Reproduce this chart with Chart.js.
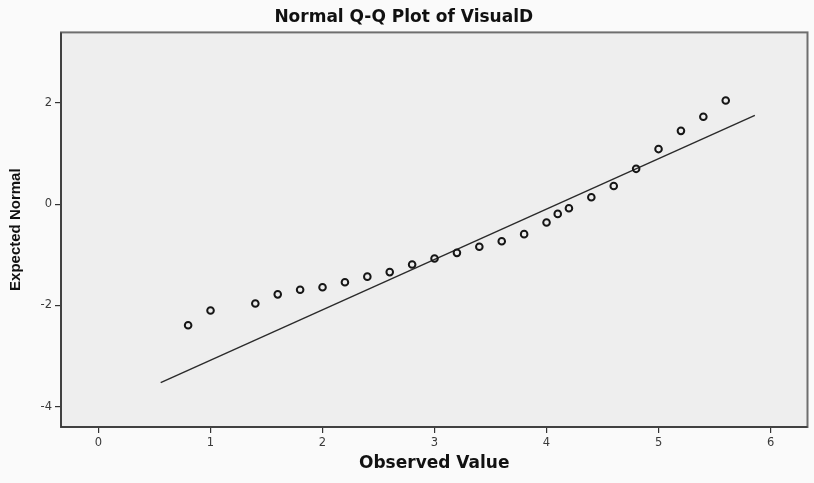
<!DOCTYPE html>
<html>
<head>
<meta charset="utf-8">
<title>Normal Q-Q Plot of VisualD</title>
<script src="https://cdn.jsdelivr.net/npm/chart.js@4/dist/chart.umd.min.js"></script>
<style>
  html, body { margin: 0; padding: 0; background: #fafafa; }
  #wrap { width: 814px; height: 483px; }
</style>
</head>
<body>
<div id="wrap"><canvas id="qq"></canvas></div>
<script>
// Observed values of VisualD and their expected normal scores
const observed = [0.8, 1.0, 1.4, 1.6, 1.8, 2.0, 2.2, 2.4, 2.6, 2.8, 3.0, 3.2, 3.4, 3.6, 3.8, 4.0, 4.1, 4.2, 4.4, 4.6, 4.8, 5.0, 5.2, 5.4, 5.6];
const expectedNormal = [-2.39, -2.10, -1.96, -1.78, -1.69, -1.64, -1.54, -1.43, -1.34, -1.19, -1.07, -0.96, -0.84, -0.73, -0.59, -0.36, -0.19, -0.08, 0.14, 0.36, 0.70, 1.09, 1.45, 1.73, 2.05];

// Reference line endpoints
const refLineX = [0.555, 5.86];
const refLineY = [-3.525, 1.755];

// Axis ticks
const xTicks = [0, 1, 2, 3, 4, 5, 6];
const yTicks = [-4, -2, 0, 2];

const pointData = observed.map((x, i) => ({ x: x, y: expectedNormal[i] }));
const lineData = refLineX.map((x, i) => ({ x: x, y: refLineY[i] }));

// Shaded plot panel with a frame around it
const panelPlugin = {
  id: 'panel',
  beforeDraw(chart) {
    const { ctx, chartArea: a } = chart;
    ctx.save();
    ctx.fillStyle = '#eeeeee';
    ctx.fillRect(a.left, a.top, a.right - a.left, a.bottom - a.top);
    ctx.restore();
  },
  afterDatasetsDraw(chart) {
    const { ctx, chartArea: a } = chart;
    ctx.save();
    ctx.strokeStyle = '#6e6e6e';
    ctx.lineWidth = 2;
    ctx.strokeRect(a.left, a.top, a.right - a.left, a.bottom - a.top);
    ctx.strokeStyle = '#333333';
    ctx.lineWidth = 1.5;
    ctx.beginPath();
    ctx.moveTo(a.left, a.top);
    ctx.lineTo(a.left, a.bottom);
    ctx.lineTo(a.right, a.bottom);
    ctx.stroke();
    ctx.restore();
  }
};

const tickFont = { family: "'DejaVu Sans', sans-serif", size: 11.5 };
const boldWide = { family: "'DejaVu Sans', sans-serif", size: 17, weight: 'bold' };

new Chart(document.getElementById('qq'), {
  type: 'scatter',
  data: {
    datasets: [
      {
        type: 'line',
        data: lineData,
        borderColor: '#2a2a2a',
        borderWidth: 1.4,
        pointRadius: 0,
        fill: false,
        order: 2
      },
      {
        data: pointData,
        pointStyle: 'circle',
        pointRadius: 3.3,
        pointBorderWidth: 2,
        pointBorderColor: '#161616',
        pointBackgroundColor: 'rgba(0,0,0,0)',
        order: 1
      }
    ]
  },
  options: {
    responsive: true,
    maintainAspectRatio: false,
    animation: false,
    layout: { padding: { left: 0, right: 6.5, top: 0, bottom: 0 } },
    plugins: {
      legend: { display: false },
      tooltip: { enabled: false },
      title: {
        display: true,
        text: 'Normal Q-Q Plot of VisualD',
        color: '#111111',
        font: boldWide,
        padding: { top: 7, bottom: 5 }
      }
    },
    scales: {
      x: {
        type: 'linear',
        min: -0.335,
        max: 6.33,
        afterBuildTicks: s => { s.ticks = xTicks.map(v => ({ value: v })); },
        afterFit: s => { s.height = 56; },
        ticks: { color: '#3a3a3a', font: tickFont, padding: 3 },
        grid: { drawOnChartArea: false, drawTicks: true, tickLength: 6, color: '#333333', lineWidth: 1.2 },
        border: { display: false },
        title: {
          display: true,
          text: 'Observed Value',
          color: '#111111',
          font: boldWide,
          padding: { top: 4, bottom: 8.8 }
        }
      },
      y: {
        type: 'linear',
        min: -4.4,
        max: 3.395,
        afterBuildTicks: s => { s.ticks = yTicks.map(v => ({ value: v })); },
        afterFit: s => { s.width = 61; },
        ticks: { color: '#3a3a3a', font: tickFont, padding: 3 },
        grid: { drawOnChartArea: false, drawTicks: true, tickLength: 6, color: '#333333', lineWidth: 1.2 },
        border: { display: false },
        title: {
          display: true,
          text: 'Expected Normal',
          color: '#111111',
          font: { family: "'Liberation Sans', Arial, sans-serif", size: 15, weight: 'bold' },
          padding: { top: 7, bottom: 2 }
        }
      }
    }
  },
  plugins: [panelPlugin]
});
</script>
</body>
</html>
